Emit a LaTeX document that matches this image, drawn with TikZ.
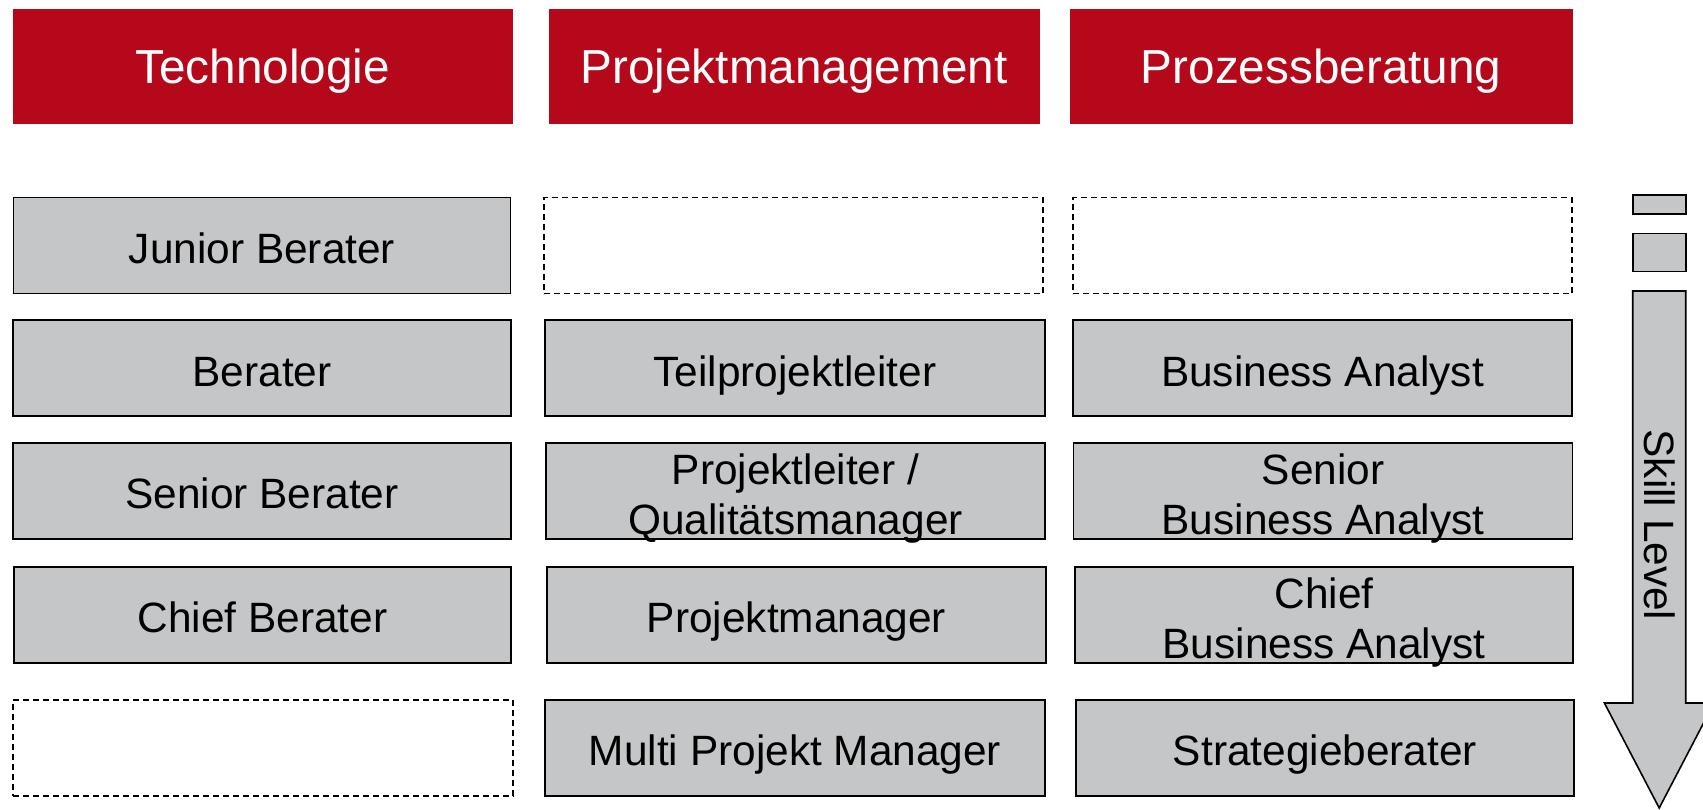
\documentclass[tikz,border=0pt]{standalone}
\usepackage{fontspec}
\setmainfont{Liberation Sans}
\definecolor{hdrred}{RGB}{181,8,26}
\definecolor{cellgray}{RGB}{197,198,200}
\tikzset{
  hdr/.style={fill=hdrred, draw=none, text=white, inner sep=0pt,
    text height=35pt, text depth=0pt,
    font=\fontsize{47.7}{56}\selectfont},
  cell/.style={fill=cellgray, draw=black, line width=1.6pt, inner sep=0pt,
    text height=35.8pt, text depth=0pt,
    align=center, font=\fontsize{42.4}{50}\selectfont},
  levelbox/.style={fill=cellgray, draw=black, line width=1.6pt, inner sep=0pt},
  celltext/.style={inner sep=0pt, align=center, font=\fontsize{42.4}{50}\selectfont},
  emptycell/.style={draw=black, line width=1.6pt, dash pattern=on 6pt off 4pt, inner sep=0pt},
}
\begin{document}
\begin{tikzpicture}[x=1pt,y=-1pt]
\useasboundingbox (0,0) rectangle (1703,809);
\clip (0,0) rectangle (1703,809);
% headers
\node[hdr, minimum width=499.6pt, minimum height=115pt] (h1) at (262.8,66.2) {Technologie};
\node[hdr, minimum width=491pt, minimum height=115pt] (h2) at (794,66.2) {Projektmanagement};
\node[hdr, minimum width=503pt, minimum height=115pt] (h3) at (1321.2,66.2) {Prozessberatung};
% column 1
\node[cell, minimum width=497pt, minimum height=96pt] (t1) at (262,245.5) {Junior Berater};
\node[cell, minimum width=498pt, minimum height=96pt] (t2) at (262,368.2) {Berater};
\node[cell, minimum width=498pt, minimum height=96pt] (t3) at (262,491) {Senior Berater};
\node[cell, minimum width=497pt, minimum height=96pt] (t4) at (262.5,614.8) {Chief Berater};
\node[emptycell, minimum width=500pt, minimum height=96pt] (t5) at (263,747.7) {};
% column 2
\node[emptycell, minimum width=499pt, minimum height=96pt] (p1) at (793.5,245.5) {};
\node[cell, minimum width=500pt, minimum height=96pt] (p2) at (795,368.2) {Teilprojektleiter};
\node[levelbox, minimum width=499pt, minimum height=96pt] (p3) at (795.5,491) {};
\node[celltext] (p3t) at ([yshift=-7.6pt]p3.center) {Projektleiter /\\Qualitätsmanager};
\node[cell, minimum width=499pt, minimum height=96pt] (p4) at (796.5,614.8) {Projektmanager};
\node[cell, minimum width=500pt, minimum height=96pt] (p5) at (795,747.7) {Multi Projekt Manager};
% column 3
\node[emptycell, minimum width=499pt, minimum height=96pt] (b1) at (1322.5,245.5) {};
\node[cell, minimum width=499pt, minimum height=96pt] (b2) at (1322.5,368.2) {Business Analyst};
\node[levelbox, minimum width=499pt, minimum height=96pt] (b3) at (1323,491) {};
\node[celltext] (b3t) at ([yshift=-7.6pt]b3.center) {Senior\\Business Analyst};
\node[levelbox, minimum width=498pt, minimum height=96pt] (b4) at (1324,614.8) {};
\node[celltext] (b4t) at ([yshift=-7.6pt]b4.center) {Chief\\Business Analyst};
\node[cell, minimum width=498pt, minimum height=96pt] (b5) at (1325,747.7) {Strategieberater};
% skill level indicator
\node[levelbox, minimum width=53pt, minimum height=19pt] (s1) at (1659.2,204.7) {};
\node[levelbox, minimum width=53pt, minimum height=38pt] (s2) at (1659.2,252.5) {};
\draw[fill=cellgray, draw=black, line width=1.6pt, line join=miter]
  (1632.7,291) -- (1685.7,291) -- (1685.7,703) -- (1714,703) -- (1659.2,808)
  -- (1604.4,703) -- (1632.7,703) -- cycle;
\node[rotate=-90, font=\fontsize{42.4}{50}\selectfont, inner sep=0pt] (skill) at (1659.2,525) {Skill Level};
\end{tikzpicture}
\end{document}
